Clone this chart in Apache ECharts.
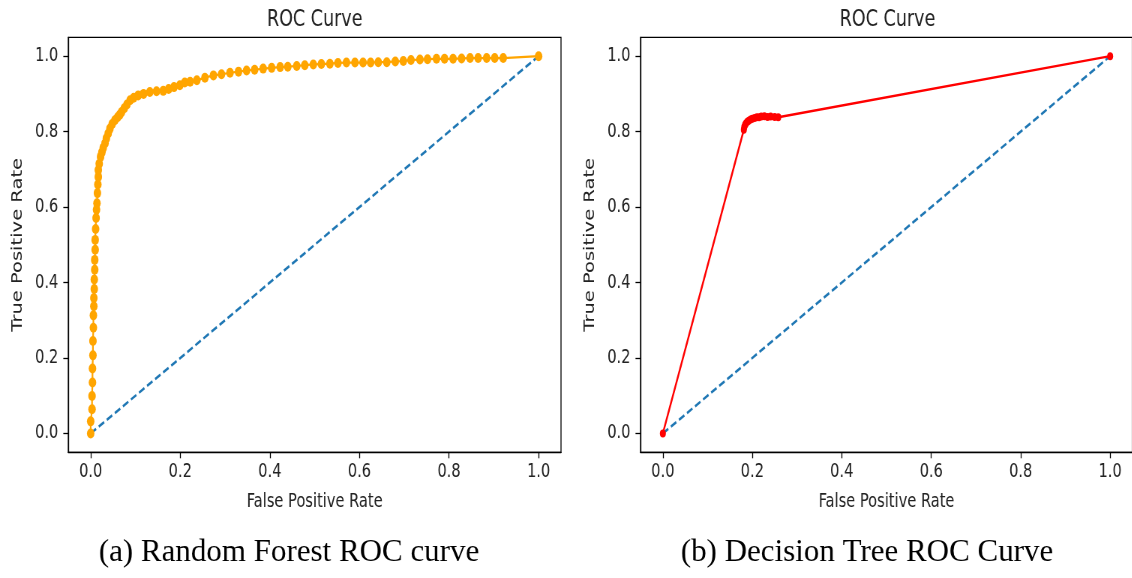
<!DOCTYPE html>
<html><head><meta charset="utf-8">
<script src="https://cdn.jsdelivr.net/npm/echarts@6/dist/echarts.min.js"></script>
<style>
html,body{margin:0;padding:0;background:#fff;overflow:hidden;width:1132px;height:578px}
#wrap{width:1132px;height:578px;overflow:hidden;position:relative}
#chart{position:absolute;left:0;top:0;width:1510px;height:578px;transform:scaleX(0.75);transform-origin:0 0}
</style></head><body>
<div id="wrap"><div id="chart"></div></div>
<script>
// The source figure is horizontally compressed; the chart is drawn wide and squeezed by SX.
const SX = 0.75;

const panelTitles = ['ROC Curve', 'ROC Curve'];
const captions = ['(a) Random Forest ROC curve', '(b) Decision Tree ROC Curve'];
const xAxisName = 'False Positive Rate';
const yAxisName = 'True Positive Rate';
const tickValues = [0, 0.2, 0.4, 0.6, 0.8, 1.0];

const chanceFpr = [0, 1];
const chanceTpr = [0, 1];

const rfFpr = [0, 0, 0.003, 0.003, 0.004, 0.004, 0.005, 0.005, 0.006, 0.006, 0.007, 0.007, 0.008, 0.008, 0.009, 0.009, 0.010, 0.010, 0.011, 0.012, 0.013, 0.014, 0.015, 0.016, 0.017, 0.017, 0.019,
  0.022, 0.025, 0.028, 0.032, 0.035, 0.039, 0.043, 0.048, 0.054, 0.06, 0.065, 0.069, 0.075, 0.081, 0.088, 0.096, 0.106, 0.118, 0.132, 0.147, 0.162, 0.174, 0.186, 0.199, 0.21, 0.222, 0.237, 0.255, 0.274, 0.292, 0.311, 0.33, 0.348, 0.366, 0.385, 0.404, 0.423, 0.44, 0.46, 0.478, 0.497, 0.515, 0.534, 0.552, 0.571, 0.59, 0.608, 0.625, 0.642, 0.661, 0.68, 0.698, 0.715, 0.735, 0.752, 0.772, 0.79, 0.809, 0.828, 0.847, 0.865, 0.884, 0.902, 0.921, 1.0];
const rfTpr = [0, 0.032, 0.064, 0.099, 0.135, 0.172, 0.207, 0.245, 0.28, 0.313, 0.337, 0.359, 0.383, 0.408, 0.434, 0.46, 0.487, 0.513, 0.542, 0.571, 0.593, 0.61, 0.637, 0.66, 0.68, 0.698, 0.715,
  0.733, 0.745, 0.757, 0.769, 0.782, 0.795, 0.808, 0.82, 0.83, 0.838, 0.845, 0.852, 0.862, 0.872, 0.883, 0.89, 0.896, 0.9, 0.905, 0.907, 0.908, 0.913, 0.918, 0.923, 0.93, 0.932, 0.936, 0.943, 0.949, 0.952, 0.956, 0.959, 0.962, 0.964, 0.967, 0.969, 0.971, 0.972, 0.974, 0.976, 0.978, 0.979, 0.98, 0.982, 0.983, 0.983, 0.983, 0.983, 0.984, 0.984, 0.986, 0.987, 0.99, 0.991, 0.992, 0.993, 0.993, 0.993, 0.994, 0.995, 0.995, 0.995, 0.995, 0.995, 1.0];

const dtFpr = [0, 0.181, 0.182, 0.184, 0.186, 0.189, 0.192, 0.196, 0.2, 0.205, 0.21, 0.215, 0.22, 0.227, 0.234, 0.241, 0.25, 0.258, 1.0];
const dtTpr = [0, 0.805, 0.812, 0.818, 0.822, 0.826, 0.829, 0.832, 0.834, 0.836, 0.838, 0.838, 0.84, 0.841, 0.839, 0.84, 0.839, 0.838, 1.0];

function zip(a, b) { const n = Math.min(a.length, b.length); const r = []; for (let i = 0; i < n; i++) r.push([a[i], b[i]]); return r; }

const SANS = 'DejaVu Sans';
const SERIF = 'Liberation Serif';
const TXT = '#222';

// final-pixel layout, converted to pre-squeeze space
const panels = [
  { left: 68.3, width: 492.7, cx: 314.7, capX: 289 },
  { left: 640.5, width: 494, cx: 887.5, capX: 867 }
];

function xAx(i) {
  return {
    type: 'value', gridIndex: i, min: -0.05, max: 1.05,
    name: xAxisName, nameLocation: 'middle', nameGap: 40,
    nameTextStyle: { fontFamily: SANS, fontSize: 19.5, color: TXT },
    axisLine: { show: true, onZero: false, lineStyle: { color: '#000', width: 1.3 } },
    axisTick: { show: true, customValues: tickValues, length: 6, lineStyle: { color: '#000', width: 1.3 } },
    axisLabel: { customValues: tickValues, formatter: v => v.toFixed(1), margin: 10, fontFamily: SANS, fontSize: 19.5, color: TXT },
    splitLine: { show: false }
  };
}
function yAx(i) {
  return {
    type: 'value', gridIndex: i, min: -0.05, max: 1.05,
    name: yAxisName, nameLocation: 'middle', nameGap: 57, nameRotate: 90,
    nameTextStyle: { fontFamily: SANS, fontSize: 19.5, color: TXT },
    axisLine: { show: true, onZero: false, lineStyle: { color: '#000', width: 1.3 } },
    axisTick: { show: true, customValues: tickValues, length: 5 / SX, lineStyle: { color: '#000', width: 1.3 } },
    axisLabel: { customValues: tickValues, formatter: v => v.toFixed(1), margin: 10 / SX, fontFamily: SANS, fontSize: 19.5, color: TXT },
    splitLine: { show: false }
  };
}

const chart = echarts.init(document.getElementById('chart'), null, { renderer: 'canvas' });
chart.setOption({
  animation: false,
  backgroundColor: '#fff',
  title: panels.map((p, i) => ({
    text: panelTitles[i], left: p.cx / SX, top: 8, textAlign: 'center', padding: 0,
    textStyle: { fontFamily: SANS, fontSize: 23.4, fontWeight: 'normal', color: TXT }
  })),
  grid: panels.map(p => ({
    left: p.left / SX, top: 37.3, width: p.width / SX, height: 415,
    show: true, borderColor: '#000', borderWidth: 1.3, backgroundColor: 'transparent', containLabel: false
  })),
  xAxis: [xAx(0), xAx(1)],
  yAxis: [yAx(0), yAx(1)],
  graphic: panels.map((p, i) => ({
    type: 'text', x: p.capX / SX, y: 553, scaleX: 1 / SX,
    style: { text: captions[i], font: '31px "' + SERIF + '"', fill: '#000',
      align: 'center', verticalAlign: 'middle', textAlign: 'center', textVerticalAlign: 'middle' }
  })),
  series: [
    { type: 'line', xAxisIndex: 0, yAxisIndex: 0, data: zip(chanceFpr, chanceTpr), symbol: 'none',
      lineStyle: { color: '#1f77b4', width: 2.6, type: [8.5, 4.2] }, z: 2 },
    { type: 'line', xAxisIndex: 0, yAxisIndex: 0, data: zip(rfFpr, rfTpr), symbol: 'circle', symbolSize: 10, showSymbol: true,
      itemStyle: { color: '#ffa500' }, lineStyle: { color: '#ffa500', width: 2.2 }, z: 3 },
    { type: 'line', xAxisIndex: 1, yAxisIndex: 1, data: zip(chanceFpr, chanceTpr), symbol: 'none',
      lineStyle: { color: '#1f77b4', width: 2.6, type: [8.5, 4.2] }, z: 2 },
    { type: 'line', xAxisIndex: 1, yAxisIndex: 1, data: zip(dtFpr, dtTpr), symbol: 'circle', symbolSize: 8, showSymbol: true,
      itemStyle: { color: '#ff0000' }, lineStyle: { color: '#ff0000', width: 2.4 }, z: 3 }
  ]
});
</script>
</body></html>
